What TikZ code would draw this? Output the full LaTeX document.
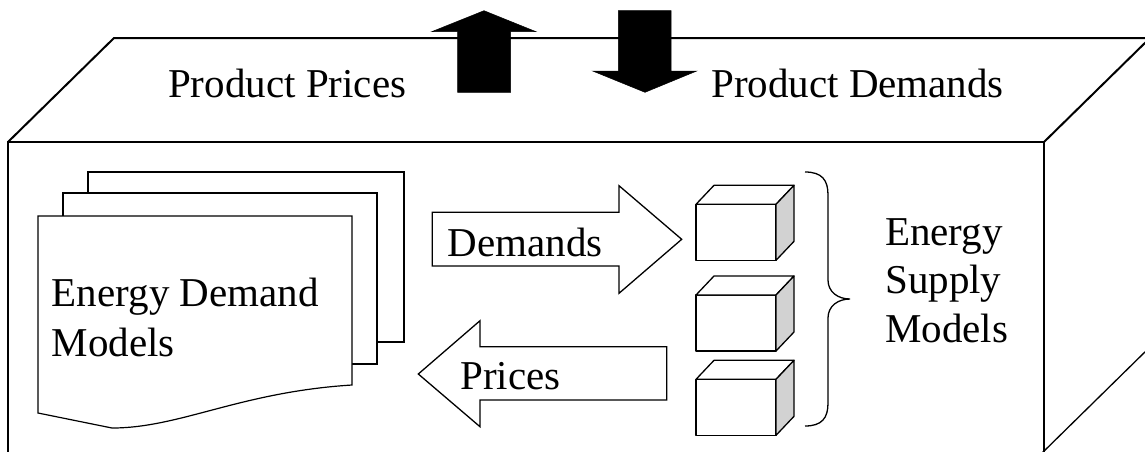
\documentclass[tikz,border=0pt]{standalone}
\usepackage{fontspec}
\setmainfont{Liberation Serif}
\begin{document}
\begin{tikzpicture}[x=1pt,y=-1pt,
  edge/.style={line width=2pt, line join=miter},
  sheet/.style={draw, fill=white, line width=1.2pt},
  blockarrow/.style={draw, fill=white, line width=1.3pt, line join=miter},
  bigarrow/.style={fill=black, draw=black, line width=0.5pt},
  cubeline/.style={draw, line width=1.3pt, line join=round},
  lbl/.style={inner sep=0pt, anchor=base west, font=\fontsize{41}{50}\selectfont}]
\useasboundingbox (0,0) rectangle (1145,451);
\begin{scope}
\clip (0,0) rectangle (1145,451);
% outer box
\coordinate (tl) at (114,38);
\coordinate (tr) at (1150,38);
\coordinate (fl) at (8,142);
\coordinate (fr) at (1044,142);
\coordinate (flb) at (8,460);
\coordinate (frb) at (1044,460);
\coordinate (rb) at (1150,347);
\coordinate (rbb) at (1040,455);
\draw[edge] (fl) -- (tl) -- (tr);
\draw[edge] (tr) -- (fr);
\draw[edge] (flb) -- (fl) -- (fr) -- (frb);
\draw[edge, line width=1.3pt] (rb) -- (rbb);
% big arrows
\draw[bigarrow] (484,10.7) -- (536,31.7) -- (510.7,31.7) -- (510.7,92.3) -- (457.7,92.3) -- (457.7,31.7) -- (431.7,31.7) -- cycle;
\draw[bigarrow] (645,92.3) -- (696.7,71) -- (671,71) -- (671,10.7) -- (618.3,10.7) -- (618.3,71) -- (592.7,71) -- cycle;
\node[lbl] (pp) at (168,97.7) {Product Prices};
\node[lbl] (pd) at (711,97.7) {Product Demands};
% sheets
\draw[sheet] (88,172) rectangle (404,342);
\draw[sheet] (63,193) rectangle (377,364);
\draw[sheet] (38,216) -- (352,216) -- (352,385) .. controls (240,392) and (180,428) .. (112,428) -- (38,413) -- cycle;
\node[lbl] (edm) at (51.7,306.7) {Energy Demand};
\node[lbl] (edm2) at (51.7,356.7) {Models};
% block arrows
\draw[blockarrow] (432.3,212.3) -- (619,212.3) -- (619,185.7) -- (681.7,239.3) -- (619,293.3) -- (619,266) -- (432.3,266) -- cycle;
\node[lbl] (dem) at (447.7,256) {Demands};
\draw[blockarrow] (666.7,346.7) -- (480,346.7) -- (480,320.7) -- (418.3,374) -- (480,426.7) -- (480,400) -- (666.7,400) -- cycle;
\node[lbl] (pri) at (460,389.3) {Prices};
% cubes
\foreach \t/\n in {204.3/c1,295/c2,379.3/c3}{
  \coordinate (\n) at (696,\t);
  \draw[cubeline, fill=white] (696,\t) rectangle (776,\t+56);
  \draw[cubeline, fill=white] (696,\t) -- (714,\t-19) -- (794,\t-19) -- (776,\t) -- cycle;
  \draw[cubeline, fill=gray!35] (776,\t) -- (794,\t-19) -- (794,\t+37) -- (776,\t+56) -- cycle;
}
% brace
\draw[line width=1.3pt] (805,172) .. controls (822,172) and (828,180) .. (828,195) -- (828,280)
  .. controls (828,292) and (838,299) .. (850,299)
  .. controls (838,299) and (828,306) .. (828,318) -- (828,403)
  .. controls (828,418) and (822,426) .. (805,426);
\node[lbl] (es1) at (885,245) {Energy};
\node[lbl] (es2) at (885,293) {Supply};
\node[lbl] (es3) at (885,342.7) {Models};
\end{scope}
\end{tikzpicture}
\end{document}
